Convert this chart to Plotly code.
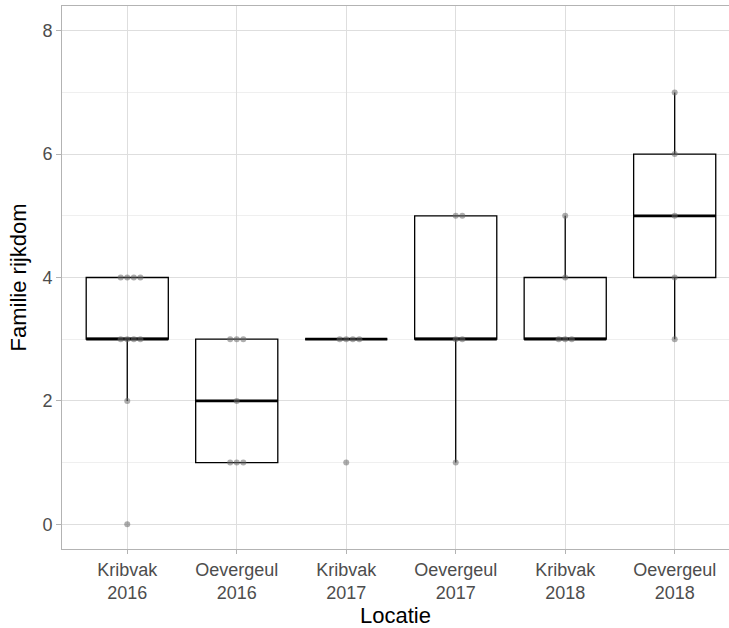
import numpy as np
import plotly.graph_objects as go

# Family richness per sample, grouped by location and year
locaties = ["Kribvak 2016", "Oevergeul 2016", "Kribvak 2017",
            "Oevergeul 2017", "Kribvak 2018", "Oevergeul 2018"]
kribvak_2016 = [4, 4, 4, 4, 3, 3, 3, 3, 2, 0]
oevergeul_2016 = [3, 3, 3, 2, 1, 1, 1]
kribvak_2017 = [3, 3, 3, 3, 1]
oevergeul_2017 = [5, 5, 3, 3, 1]
kribvak_2018 = [5, 4, 3, 3, 3]
oevergeul_2018 = [7, 6, 5, 4, 3]
y_ticks = [0, 2, 4, 6, 8]

groups = [kribvak_2016, oevergeul_2016, kribvak_2017,
          oevergeul_2017, kribvak_2018, oevergeul_2018]

BOX_W = 0.75
DOT_STEP = 0.06
FONT = "Liberation Sans, Arial, sans-serif"

fig = go.Figure()

# Boxes (R type-7 quartiles, whiskers limited to 1.5*IQR; the outlier
# markers themselves are hidden because every sample is drawn below)
box_x, box_y = [], []
for i, vals in enumerate(groups):
    box_x += [i] * len(vals)
    box_y += vals
fig.add_trace(go.Box(
    x=box_x, y=box_y, width=BOX_W, quartilemethod="inclusive",
    boxpoints="outliers", marker=dict(opacity=0, size=1),
    fillcolor="rgba(0,0,0,0)",
    line=dict(color="black", width=1.3), whiskerwidth=0,
    showlegend=False, hoverinfo="skip",
))

# Heavier median bar
for i, vals in enumerate(groups):
    med = float(np.median(vals))
    fig.add_trace(go.Scatter(
        x=[i - BOX_W / 2, i + BOX_W / 2], y=[med, med], mode="lines",
        line=dict(color="black", width=2.8), showlegend=False,
        hoverinfo="skip",
    ))

# Individual samples, spread sideways where values coincide
pt_x, pt_y = [], []
for i, vals in enumerate(groups):
    for v in sorted(set(vals)):
        n = vals.count(v)
        offs = (np.arange(n) - (n - 1) // 2) * DOT_STEP
        pt_x += list(i + offs)
        pt_y += [v] * n
fig.add_trace(go.Scatter(
    x=pt_x, y=pt_y, mode="markers",
    marker=dict(size=6, color="rgba(105,105,105,0.55)", line=dict(width=0)),
    showlegend=False, hoverinfo="skip",
))

fig.update_layout(
    width=729, height=628,
    margin=dict(l=62, r=0, t=6, b=79),
    plot_bgcolor="white", paper_bgcolor="white",
    font=dict(family=FONT),
    xaxis=dict(
        range=[-0.596, 5.496],
        tickmode="array", tickvals=list(range(len(locaties))),
        ticktext=[s.replace(" ", "<br>") for s in locaties],
        tickfont=dict(size=18, color="#4d4d4d"),
        ticks="outside", ticklen=4, tickcolor="#b3b3b3", tickwidth=1,
        showgrid=True, gridcolor="#dedede", gridwidth=1,
        showline=True, linecolor="#b3b3b3", linewidth=1, mirror=True,
        zeroline=False,
        title=dict(text="Locatie", font=dict(size=22, color="black"),
                   standoff=13),
        automargin=False,
    ),
    yaxis=dict(
        range=[-0.4, 8.4],
        tickmode="array", tickvals=y_ticks,
        tickfont=dict(size=18, color="#4d4d4d"),
        ticks="outside", ticklen=5, tickcolor="#b3b3b3", tickwidth=1,
        showgrid=True, gridcolor="#dedede", gridwidth=1,
        minor=dict(tickmode="array", tickvals=[1, 3, 5, 7], showgrid=True,
                   gridcolor="#efefef", gridwidth=1, ticks=""),
        showline=True, linecolor="#b3b3b3", linewidth=1, mirror=False,
        zeroline=False,
        title=dict(text="Familie rijkdom", font=dict(size=22, color="black"),
                   standoff=9),
        automargin=False,
    ),
)

fig.write_html("out.html")
